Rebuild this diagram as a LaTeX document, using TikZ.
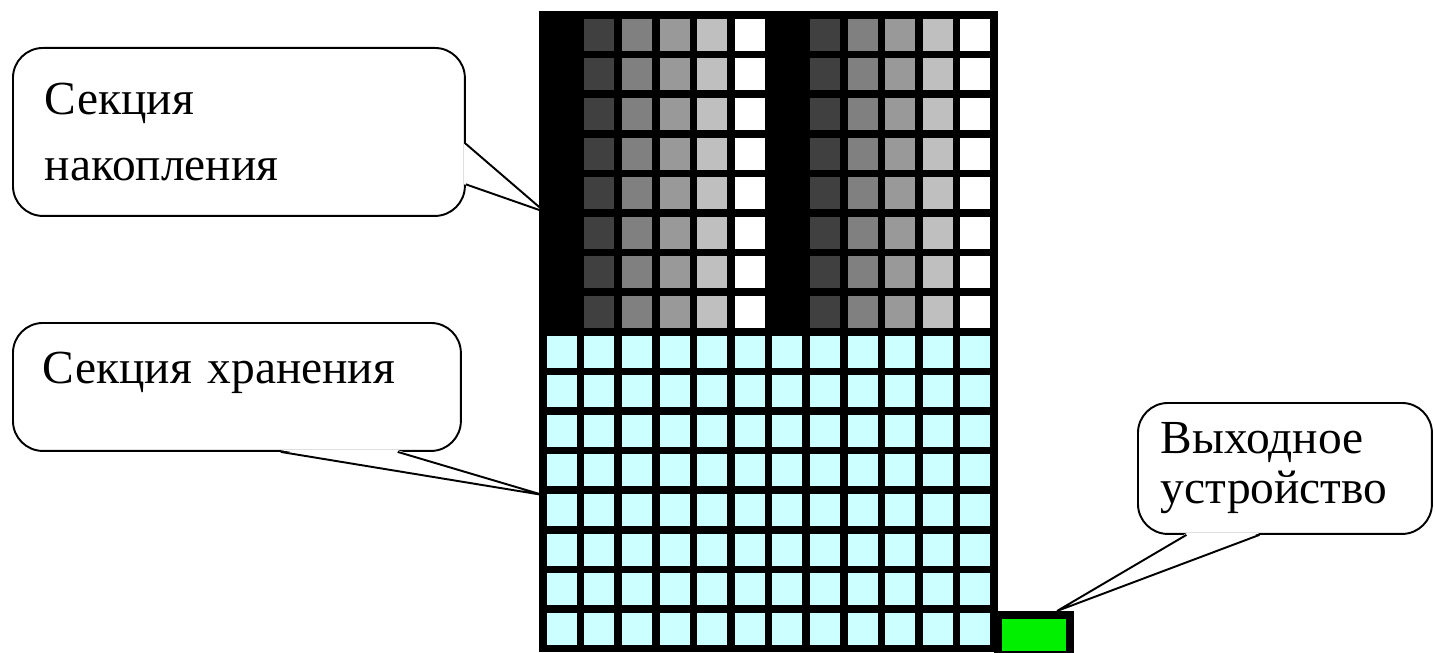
\documentclass[tikz,border=0pt]{standalone}
\usepackage{fontspec}
\setmainfont{Liberation Serif}
\usetikzlibrary{positioning}

\definecolor{storecyan}{HTML}{CCFFFF}
\definecolor{outgreen}{HTML}{00F000}

\begin{document}
\begin{tikzpicture}[x=0.02cm, y=-0.02cm,
  cell/.style={draw=black, line width=0.15cm},
  bubble/.style={draw, line width=1.1pt, fill=white, rounded corners=0.6cm,
    align=left, anchor=north west, inner ysep=0pt},
  tail/.style={line width=1.1pt}]
  \useasboundingbox (0,0) rectangle (1435,652);

  % accumulation section: two gray ramps
  \foreach \c/\g in {0/0,1/25,2/50,3/60,4/75,5/100,6/0,7/25,8/50,9/60,10/75,11/100}
    \foreach \r in {0,...,7}
      \draw[cell, fill=white!\g!black] ({543+\c*37.6},{15+\r*39.6}) rectangle +(37.6,39.6);

  % storage section
  \foreach \c in {0,...,11}
    \foreach \r in {8,...,15}
      \draw[cell, fill=storecyan] ({543+\c*37.6},{15+\r*39.6}) rectangle +(37.6,39.6);

  \node[cell, fill=outgreen, anchor=north west, inner sep=0pt,
    minimum width=1.44cm, minimum height=0.792cm] (out) at (994.2,611) {};

  \coordinate (tipacc) at (545,212);
  \coordinate (tipstore) at (543,495);
  \coordinate (tipout) at (1057,611);

  \node[bubble, text width=7.76cm, inner xsep=0.64cm, minimum height=3.36cm,
    font=\fontsize{27pt}{37.4pt}\selectfont] (accum) at (12,47)
    {Секция\\накопления};
  \node[bubble, text width=7.76cm, inner xsep=0.6cm, minimum height=2.56cm,
    text depth=0.76cm, font=\fontsize{27pt}{37.4pt}\selectfont] (store) at (12,322)
    {Секция хранения};
  \node[bubble, text width=4.96cm, inner xsep=0.46cm, minimum height=2.62cm,
    font=\fontsize{27pt}{28.5pt}\selectfont] (device) at (1137,402)
    {Выходное\\устройство};

  \fill[white] ([xshift=-1pt]accum.-3.5) -- (tipacc) -- ([xshift=-1pt]accum.-13.6) -- cycle;
  \draw[tail] (accum.-3.5) -- (tipacc) -- (accum.-13.6);

  \fill[white] ([yshift=1pt]store.-56.1) -- (tipstore) -- ([yshift=1pt]store.-22.6) -- cycle;
  \draw[tail] (store.-56.1) -- (tipstore) -- (store.-22.6);

  \fill[white] ([yshift=1pt]device.214) -- (tipout) -- ([yshift=1pt]device.249.9) -- cycle;
  \draw[tail] (device.214) -- (tipout) -- (device.249.9);
\end{tikzpicture}
\end{document}
